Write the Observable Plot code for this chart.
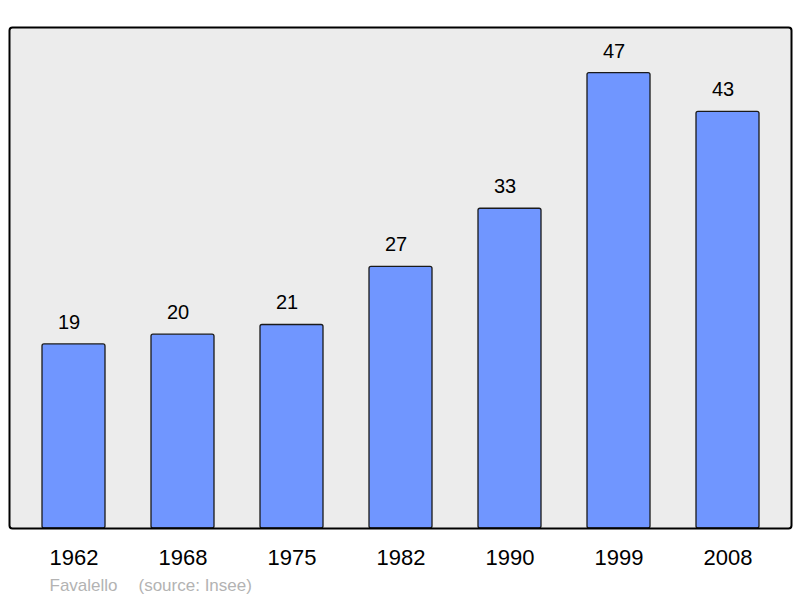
<!DOCTYPE html>
<html>
<head>
<meta charset="utf-8">
<script src="https://cdn.jsdelivr.net/npm/d3@7"></script>
<script src="https://cdn.jsdelivr.net/npm/@observablehq/plot@0.6"></script>
<style>
  html, body { margin: 0; padding: 0; background: #fff; }
  svg { display: block; }
</style>
</head>
<body>
<div id="chart"></div>
<script>
const years = ["1962", "1968", "1975", "1982", "1990", "1999", "2008"];
const population = [19, 20, 21, 27, 33, 47, 43];
const author = "Favalello";
const source = "(source: Insee)";

const data = years.map((year, i) => ({year, value: population[i]}));

const chart = Plot.plot({
  width: 800,
  height: 598,
  marginLeft: 9,
  marginRight: 9,
  marginTop: 27,
  marginBottom: 70,
  style: {fontFamily: "'Liberation Sans', Arial, sans-serif", background: "#fff"},
  x: {domain: years, range: [18.2, 783.5], paddingInner: 0.424, paddingOuter: 0.212, label: null},
  y: {domain: [0, 47], range: [528, 72.6], axis: null},
  marks: [
    Plot.frame({fill: "#ececec", stroke: "none"}),
    Plot.barY(data, {x: "year", y: "value", fill: "#7096ff", stroke: "#1a1a1a", strokeWidth: 1.3, rx: 2}),
    Plot.text(data, {x: "year", y: "value", text: d => String(d.value), dy: -22, dx: -5, fontSize: 20, fill: "#000"}),
    Plot.frame({stroke: "#000", strokeWidth: 2, rx: 3}),
    Plot.axisX({tickSize: 0, tickPadding: 21, fontSize: 22, fill: "#000", label: null}),
    Plot.text([author], {frameAnchor: "bottom-left", dx: 40, dy: 62, text: d => d, textAnchor: "start", fontSize: 17, fill: "#b3b3b3"}),
    Plot.text([source], {frameAnchor: "bottom-left", dx: 129, dy: 62, text: d => d, textAnchor: "start", fontSize: 17, fill: "#b3b3b3"})
  ]
});
document.getElementById("chart").appendChild(chart);
</script>
</body>
</html>
